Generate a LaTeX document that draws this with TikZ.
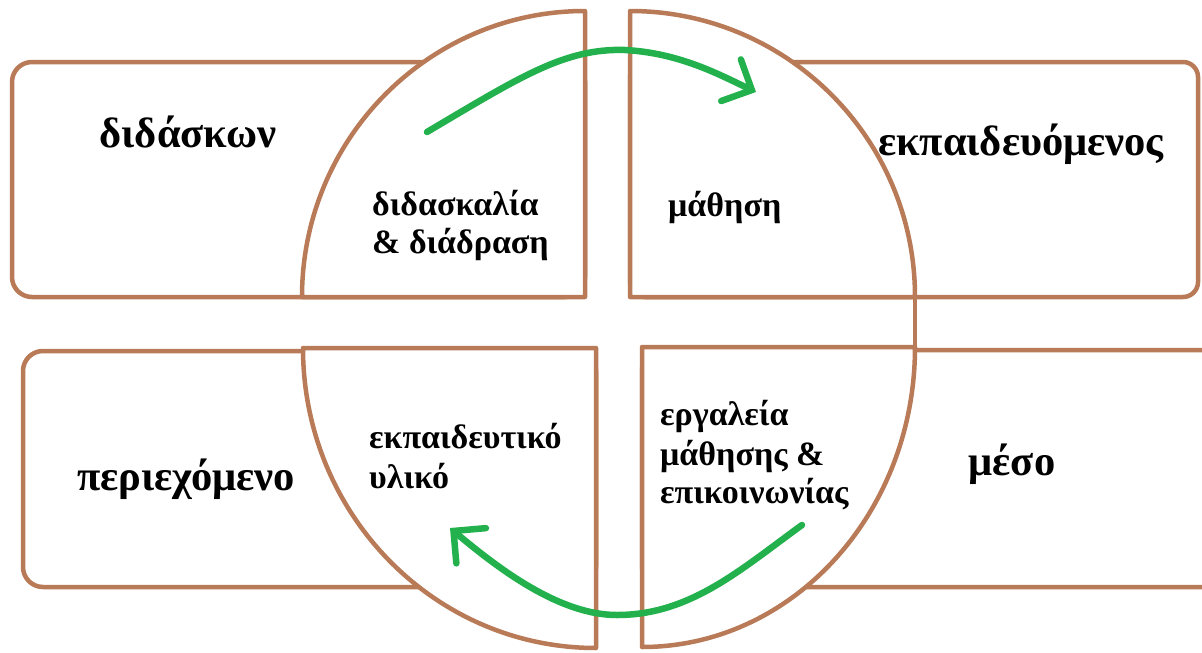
\documentclass[tikz,border=0pt]{standalone}
\usepackage{fontspec}
\setmainfont{Liberation Serif}
\usetikzlibrary{arrows.meta}
\definecolor{brownline}{RGB}{185,122,87}
\definecolor{greenarrow}{RGB}{34,177,76}
\begin{document}
\begin{tikzpicture}[x=1pt,y=-1pt,
  frame/.style={draw=brownline, line width=4.5pt, rounded corners=20pt},
  quad/.style={draw=brownline, fill=white, line width=4.5pt, line join=round},
  outer/.style={font=\bfseries\fontsize{42.5}{46}\selectfont, inner sep=0pt, anchor=base},
  inner/.style={font=\bfseries\fontsize{34}{38}\selectfont, inner sep=0pt, anchor=base west},
  flow/.style={draw=greenarrow, line width=6.5pt, line cap=round,
    -{Straight Barb[length=23pt,width=46pt,line cap=round]}}]
\useasboundingbox (0,0) rectangle (1202,653);
\fill[white] (0,0) rectangle (1202,653);
\begin{scope}
\clip (0,0) rectangle (1202,653);
% rectangles
\draw[frame] (12,62) rectangle (585,297);
\draw[frame, rounded corners=15pt] (630,62) rectangle (1198,297);
\draw[frame] (23,351) rectangle (596,587);
\draw[frame] (642,350) rectangle (1230,587);
% quadrants
\draw[quad] (585,297) -- (585,11) arc[start angle=270, end angle=180, x radius=283, y radius=286] -- cycle;
\draw[quad] (630,297) -- (630,11) arc[start angle=270, end angle=360, x radius=285, y radius=286] -- cycle;
\draw[draw=brownline, line width=4.5pt] (915,297) -- (915,347);
\draw[quad] (596,348) -- (303,348) arc[start angle=180, end angle=90, x radius=293, y radius=300] -- cycle;
\draw[quad] (642,347) -- (915,347) arc[start angle=0, end angle=90, x radius=273, y radius=300] -- cycle;
\end{scope}
% outer labels
\node[outer] (teacher) at (188,147) {διδάσκων};
\node[outer] (learner) at (1021,155) {εκπαιδευόμενος};
\node[outer] (content) at (186,490) {περιεχόμενο};
\node[outer] (medium) at (1012,475) {μέσο};
% inner labels
\node[inner] (teachA) at (372,215) {διδασκαλία};
\node[inner] (teachB) at (372,253) {\& διάδραση};
\node[inner] (learn) at (668,216) {μάθηση};
\node[inner] (matA) at (369,448) {εκπαιδευτικό};
\node[inner] (matB) at (369,488) {υλικό};
\node[inner] (toolA) at (660,425) {εργαλεία};
\node[inner] (toolB) at (660,465) {μάθησης \&};
\node[inner] (toolC) at (660,503) {επικοινωνίας};
% arrows
\coordinate (s1) at (427,132);
\coordinate (p1) at (625,50);
\coordinate (e1) at (756,92);
\coordinate (s2) at (802,525);
\coordinate (p2) at (617,615);
\coordinate (e2) at (450,528);
\draw[flow] (s1) .. controls (520,77) and (565,48) .. (p1) .. controls (680,53) and (720,75) .. (e1);
\draw[flow] (s2) .. controls (740,570) and (690,615) .. (p2) .. controls (560,615) and (500,570) .. (e2);
\end{tikzpicture}
\end{document}
